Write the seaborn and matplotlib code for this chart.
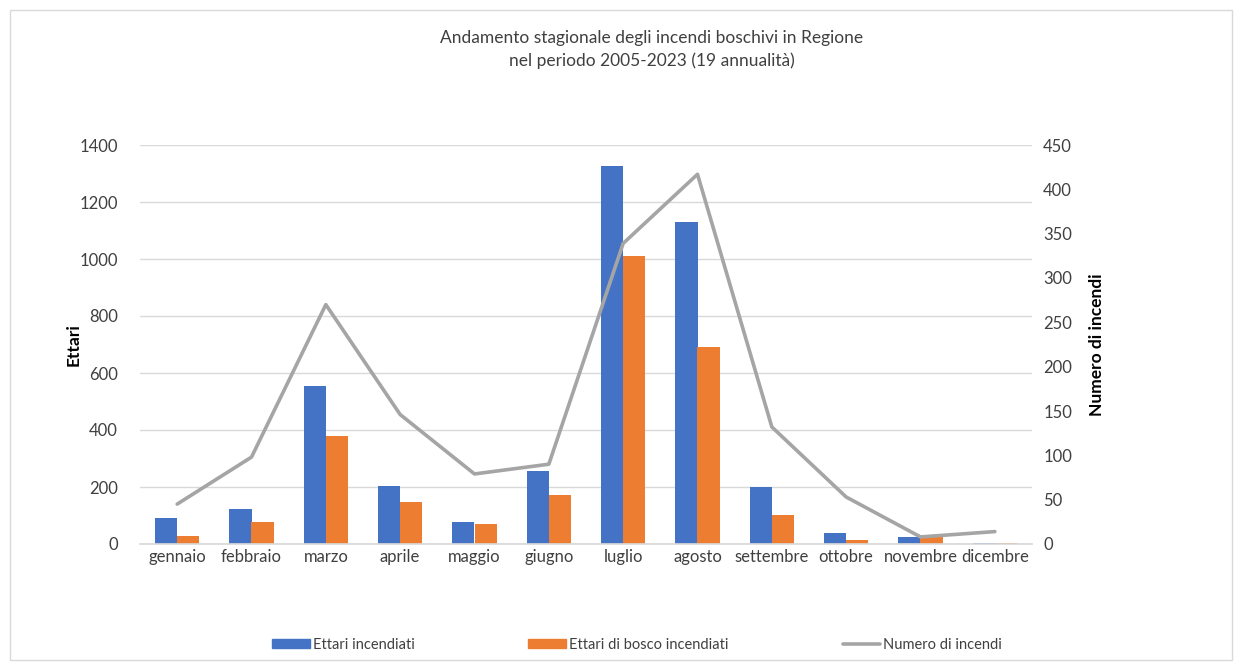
import matplotlib
matplotlib.use("Agg")
import matplotlib.pyplot as plt
from matplotlib.patches import Rectangle, Patch
from matplotlib.lines import Line2D
import seaborn as sns
import pandas as pd
import numpy as np

mesi = ["gennaio", "febbraio", "marzo", "aprile", "maggio", "giugno",
        "luglio", "agosto", "settembre", "ottobre", "novembre", "dicembre"]
ettari_incendiati = [91, 124, 556, 204, 77, 255, 1326, 1129, 199, 37, 26, 5]
ettari_bosco = [27, 77, 380, 146, 71, 173, 1010, 691, 101, 15, 25, 4]
numero_incendi = [45, 98, 270, 146, 79, 90, 339, 417, 132, 53, 8, 14]

BLUE = "#4472C4"
ORANGE = "#ED7D31"
GREY = "#A5A5A5"

sns.set_theme(style="white")
plt.rcParams["font.family"] = ["Lato", "DejaVu Sans"]

df = pd.DataFrame({"mese": mesi,
                   "Ettari incendiati": ettari_incendiati,
                   "Ettari di bosco incendiati": ettari_bosco})
long_df = df.melt(id_vars="mese", var_name="serie", value_name="ettari")

fig = plt.figure(figsize=(12.42, 6.71), dpi=100)
ax = fig.add_axes([140 / 1242, 1 - 544 / 671, 892 / 1242, 399 / 671])

sns.barplot(data=long_df, x="mese", y="ettari", hue="serie", order=mesi,
            palette=[BLUE, ORANGE], width=0.6, saturation=1, linewidth=0,
            ax=ax, legend=False)
ax.set_ylim(0, 1400)
ax.set_yticks(np.arange(0, 1401, 200))
ax.set_xlim(-0.5, len(mesi) - 0.5)
ax.yaxis.grid(True, color="#D9D9D9", linewidth=1)
ax.set_axisbelow(True)
for s in ["top", "right", "left"]:
    ax.spines[s].set_visible(False)
ax.spines["bottom"].set_color("#D9D9D9")
ax.tick_params(axis="both", length=0, labelsize=12, colors="#404040")
ax.tick_params(axis="y", pad=16)
ax.set_xlabel("")
ax.set_ylabel("Ettari", fontsize=12.5, fontweight="bold", color="black", labelpad=-2)

ax2 = ax.twinx()
sns.lineplot(x=np.arange(len(mesi)), y=numero_incendi, color=GREY, linewidth=2.6,
             ax=ax2)
ax2.set_ylim(0, 450)
ax2.set_yticks(np.arange(0, 451, 50))
for s in ["top", "right", "left", "bottom"]:
    ax2.spines[s].set_visible(False)
ax2.tick_params(axis="y", length=0, labelsize=12, colors="#404040", pad=8)
ax2.set_ylabel("Numero di incendi", fontsize=12.5, fontweight="bold", color="black",
               labelpad=12)

fig.text(0.525, 1 - 38 / 671, "Andamento stagionale degli incendi boschivi in Regione",
         ha="center", va="center", fontsize=12.5, color="#404040")
fig.text(0.525, 1 - 61 / 671, "nel periodo 2005-2023 (19 annualità)",
         ha="center", va="center", fontsize=12.5, color="#404040")

handles = [Patch(color=BLUE), Patch(color=ORANGE), Line2D([], [], color=GREY, linewidth=2.6)]
labels = ["Ettari incendiati", "Ettari di bosco incendiati", "Numero di incendi"]
fig.legend(handles, labels, loc="center", bbox_to_anchor=(0.513, 1 - 645 / 671),
           ncol=3, frameon=False, fontsize=10.5, columnspacing=7.8, handlelength=2.6,
           handletextpad=0.2, handleheight=0.6, labelcolor="#404040")

fig.patches.append(Rectangle((10 / 1242, 1 - 660 / 671), 1222 / 1242, 650 / 671,
                             transform=fig.transFigure, fill=False,
                             edgecolor="#D9D9D9", linewidth=1))

fig.savefig("out.png", dpi=100)
